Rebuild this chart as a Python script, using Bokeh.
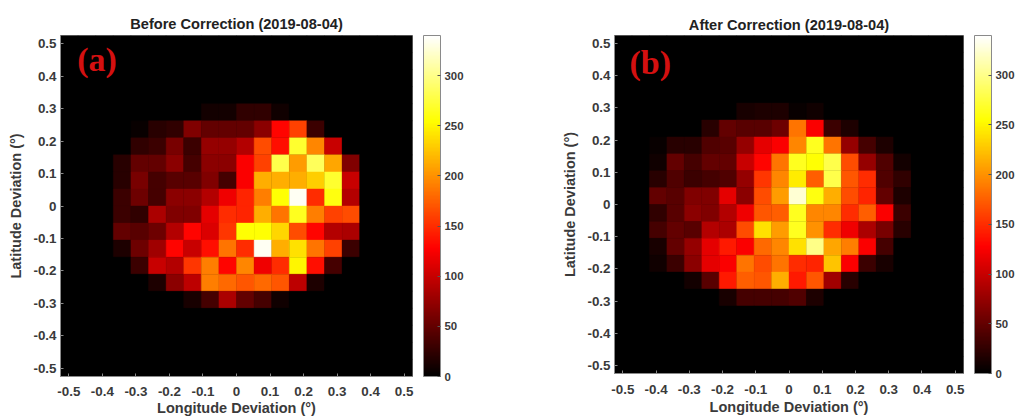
from bokeh.embed import file_html
from bokeh.resources import INLINE
from bokeh.layouts import row
from bokeh.models import (ColumnDataSource, LinearColorMapper, ColorBar, FixedTicker, Label, Range1d)
from bokeh.plotting import figure
from bokeh.transform import transform

# Row values top (lat high) to bottom, 20 longitude bins each
before_r00 = [0]*20
before_r01 = [0]*20
before_r02 = [0]*20
before_r03 = [0]*20
before_r04 = [0,0,0,0,0,0,0,0,10,10,25,25,8,0,0,0,0,0,0,0]
before_r05 = [0,0,0,0,5,20,25,65,50,50,50,70,130,160,30,0,0,0,0,0]
before_r06 = [0,0,0,0,25,30,60,30,75,75,90,165,135,270,195,100,0,0,0,0]
before_r07 = [0,0,0,20,50,50,70,35,70,70,125,160,280,205,285,210,65,0,0,0]
before_r08 = [0,0,0,20,60,35,45,45,65,35,125,215,215,215,230,270,100,0,0,0]
before_r09 = [0,0,0,30,55,35,70,70,90,120,145,190,255,335,150,260,90,0,0,0]
before_r10 = [0,0,0,30,25,85,65,65,115,150,145,215,185,265,190,160,165,0,0,0]
before_r11 = [0,0,0,50,45,55,90,130,110,155,255,255,235,165,130,90,85,0,0,0]
before_r12 = [0,0,0,15,55,80,130,100,135,185,150,335,215,240,185,160,30,0,0,0]
before_r13 = [0,0,0,0,30,100,90,155,190,130,195,120,150,250,135,35,0,0,0,0]
before_r14 = [0,0,0,0,0,15,70,95,190,180,170,180,170,95,15,0,0,0,0,0]
before_r15 = [0,0,0,0,0,0,0,12,35,85,50,35,8,0,0,0,0,0,0,0]
before_r16 = [0]*20
before_r17 = [0]*20
before_r18 = [0]*20
before_r19 = [0]*20

after_r00 = [0]*20
after_r01 = [0]*20
after_r02 = [0]*20
after_r03 = [0]*20
after_r04 = [0,0,0,0,0,0,0,12,15,15,5,8,0,0,0,0,0,0,0,0]
after_r05 = [0,0,0,0,0,20,50,45,45,55,185,125,30,15,0,0,0,0,0,0]
after_r06 = [0,0,5,20,20,40,45,75,115,125,195,265,185,75,35,15,0,0,0,0]
after_r07 = [0,0,8,50,35,50,50,100,130,185,265,255,280,165,75,40,10,0,0,0]
after_r08 = [0,0,20,40,30,35,40,75,155,195,245,175,280,170,150,40,25,0,0,0]
after_r09 = [0,0,50,45,65,65,115,70,165,205,325,260,215,165,145,50,15,0,0,0]
after_r10 = [0,0,25,45,70,65,90,120,170,175,265,195,195,150,175,125,30,0,0,0]
after_r11 = [0,0,35,50,45,90,85,165,240,205,265,200,150,120,85,60,20,0,0,0]
after_r12 = [0,0,12,50,75,115,140,125,180,195,240,300,210,190,125,35,0,0,0,0]
after_r13 = [0,0,8,30,70,115,125,185,165,185,150,145,225,125,30,12,0,0,0,0]
after_r14 = [0,0,0,0,10,45,140,175,170,215,140,170,80,20,0,0,0,0,0,0]
after_r15 = [0,0,0,0,0,0,12,35,35,35,40,15,0,0,0,0,0,0,0,0]
after_r16 = [0]*20
after_r17 = [0]*20
after_r18 = [0]*20
after_r19 = [0]*20

before_rows = [before_r00,before_r01,before_r02,before_r03,before_r04,before_r05,before_r06,before_r07,before_r08,before_r09,
               before_r10,before_r11,before_r12,before_r13,before_r14,before_r15,before_r16,before_r17,before_r18,before_r19]
after_rows = [after_r00,after_r01,after_r02,after_r03,after_r04,after_r05,after_r06,after_r07,after_r08,after_r09,
              after_r10,after_r11,after_r12,after_r13,after_r14,after_r15,after_r16,after_r17,after_r18,after_r19]

axis_ticks = [-0.5,-0.4,-0.3,-0.2,-0.1,0,0.1,0.2,0.3,0.4,0.5]
axis_tick_labels = {-0.5:"-0.5",-0.4:"-0.4",-0.3:"-0.3",-0.2:"-0.2",-0.1:"-0.1",0:"0",0.1:"0.1",0.2:"0.2",0.3:"0.3",0.4:"0.4",0.5:"0.5"}
cbar_ticks = [0,50,100,150,200,250,300]
VMAX = 340
EDGE = 0.525
NBINS = 20
STEP = 2*EDGE/NBINS

def hot(n=256):
    out = []
    for i in range(n):
        t = i/(n-1)
        r = min(1, t/0.375)
        g = min(1, max(0, (t-0.375)/0.375))
        b = min(1, max(0, (t-0.75)/0.25))
        out.append("#%02x%02x%02x" % (round(r*255), round(g*255), round(b*255)))
    return out

PAL = hot()
TXT = "#3a3a3a"
FONT = "Liberation Sans"

def panel(rows, title, tag, fw, fh, left, top, bottom, right, tag_x, tag_y, title_off, tick_off, label_off):
    xs, ys, vs = [], [], []
    for r, vals in enumerate(rows):
        for c, v in enumerate(vals):
            xs.append(-EDGE + STEP*(c+0.5))
            ys.append(EDGE - STEP*(r+0.5))
            vs.append(v)
    src = ColumnDataSource(dict(x=xs, y=ys, v=vs))
    mapper = LinearColorMapper(palette=PAL, low=0, high=VMAX)
    p = figure(frame_width=fw, frame_height=fh, output_backend="svg", toolbar_location=None,
               x_range=Range1d(-EDGE, EDGE), y_range=Range1d(-EDGE, EDGE),
               min_border_left=left, min_border_right=right, min_border_top=top, min_border_bottom=bottom,
               background_fill_color="black", border_fill_color="white",
               x_axis_label="Longitude Deviation (°)", y_axis_label="Latitude Deviation (°)")
    p.rect("x", "y", width=STEP, height=STEP, source=src,
           fill_color=transform("v", mapper), line_color=transform("v", mapper), line_width=0.4)
    p.grid.visible = False
    p.outline_line_color = "#8a8a8a"
    p.title.text = title
    p.title.align = "center"
    p.title.text_font = FONT
    p.title.text_font_size = "14.6px"
    p.title.text_font_style = "bold"
    p.title.text_color = "#222222"
    p.title.standoff = title_off
    for ax in (p.xaxis[0], p.yaxis[0]):
        ax.ticker = FixedTicker(ticks=axis_ticks)
        ax.major_label_overrides = axis_tick_labels
        ax.major_label_text_font = FONT
        ax.major_label_text_font_size = "13.4px"
        ax.major_label_text_font_style = "bold"
        ax.major_label_text_color = TXT
        ax.axis_label_text_font = FONT
        ax.axis_label_text_font_size = "14.5px"
        ax.axis_label_text_font_style = "bold"
        ax.axis_label_text_color = TXT
        ax.axis_line_color = "#8a8a8a"
        ax.major_tick_line_color = "#8a8a8a"
        ax.major_tick_in = 3
        ax.major_tick_out = 0
        ax.minor_tick_line_color = None
    p.xaxis[0].major_label_standoff = tick_off
    p.xaxis[0].axis_label_standoff = label_off
    p.yaxis[0].major_label_standoff = 4
    p.yaxis[0].axis_label_standoff = 6
    p.add_layout(Label(x=tag_x, y=tag_y, text=tag, text_color="#d41010", text_font="Liberation Serif",
                       text_font_style="bold", text_font_size="34px"))
    cb = ColorBar(color_mapper=mapper, ticker=FixedTicker(ticks=cbar_ticks), width=17, margin=0, padding=0,
                  location=(11, 0),
                  major_label_text_font=FONT, major_label_text_font_size="11.4px",
                  major_label_text_font_style="bold", major_label_text_color=TXT,
                  major_tick_in=3, major_tick_line_color="#555555", bar_line_color="#8a8a8a",
                  label_standoff=4, border_line_color=None, background_fill_color=None)
    p.add_layout(cb, "right")
    return p

a = panel(before_rows, "Before Correction (2019-08-04)", "(a)", 352, 341, 60, 33, 43, 88, -0.475, 0.395, 8, 10, 1)
b = panel(after_rows, "After Correction (2019-08-04)", "(b)", 349, 338, 114, 35, 44, 53, -0.48, 0.385, 6, 11, 2)

page = row(a, b, spacing=0)
open("out.html", "w").write(file_html(page, INLINE))
